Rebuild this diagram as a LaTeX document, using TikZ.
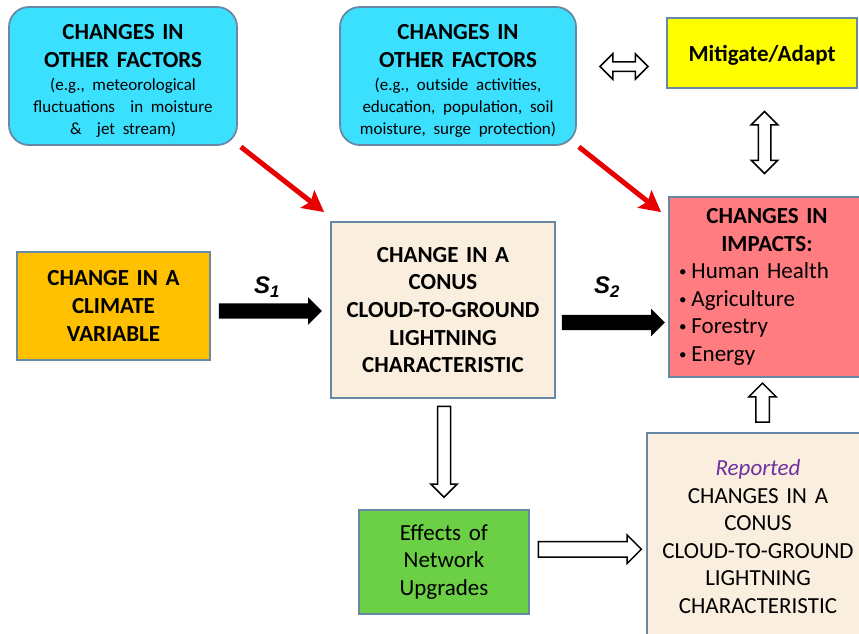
\documentclass[tikz,border=0pt]{standalone}
\usepackage{fontspec}
\setmainfont{Carlito}
\newfontfamily\arialfont{Liberation Sans}
\usetikzlibrary{shapes.arrows,arrows.meta,calc}
\definecolor{cyanfill}{RGB}{59,224,255}
\definecolor{edgecol}{RGB}{104,137,165}
\definecolor{orangefill}{RGB}{255,192,0}
\definecolor{yellowfill}{RGB}{255,255,0}
\definecolor{redfill}{RGB}{255,124,128}
\definecolor{creamfill}{RGB}{250,239,222}
\definecolor{greenfill}{RGB}{108,208,70}
\definecolor{purp}{RGB}{112,48,160}
\definecolor{arrowred}{RGB}{230,0,0}
\newcommand\myBig{\fontsize{23}{27.6}\selectfont}
\newcommand\mySmall{\fontsize{17}{21.8}\selectfont}
\newcommand\mybul{{\fontsize{15}{15}\selectfont\raisebox{2pt}{•}}\hspace{5pt}}
\begin{document}
\begin{tikzpicture}[x=1pt,y=-1pt,
  box/.style={draw=edgecol, line width=1.8pt, inner sep=0pt, align=center, font=\myBig},
  cyanbox/.style={box, fill=cyanfill, rounded corners=20pt},
  hollowarrow/.style={single arrow, draw=black, fill=white, line width=1.5pt, inner xsep=0pt, text height=0pt, text depth=0pt},
  hollowdouble/.style={double arrow, draw=black, fill=white, line width=1.5pt, inner xsep=0pt, text height=0pt, text depth=0pt},
  solidarrow/.style={single arrow, fill=black, draw=none, inner xsep=0pt, text height=0pt, text depth=0pt, inner ysep=7.5pt, single arrow head extend=6pt, minimum height=103pt},
  redarrow/.style={draw=arrowred, line width=5pt, -{Stealth[length=21pt,width=22pt,inset=4pt]}},
  slabel/.style={font=\arialfont\bfseries\itshape\fontsize{24}{26}\selectfont, inner sep=0pt}
]
\useasboundingbox (0,0) rectangle (859,633);

\node[cyanbox, minimum width=228pt, minimum height=138pt, text width=222pt] (A) at (123,76)
  {{\bfseries\rule{0pt}{25pt}CHANGES IN\\OTHER FACTORS\par}\vspace{2pt}{\mySmall (e.g., meteorological\\fluctuations~ in moisture\\\&~ jet stream)\par}};
\node[cyanbox, minimum width=236pt, minimum height=138pt, text width=230pt] (B) at (458,76)
  {{\bfseries\rule{0pt}{25pt}CHANGES IN\\OTHER FACTORS\par}\vspace{2pt}{\mySmall (e.g., outside activities,\\education, population, soil\\moisture, surge protection)\par}};
\node[box, fill=yellowfill, minimum width=190pt, minimum height=70pt, text width=184pt, text depth=0pt] (M) at (762,53)
  {\bfseries Mitigate/Adapt};
\node[box, fill=orangefill, minimum width=193pt, minimum height=108pt, text width=187pt] (V) at (113.5,306)
  {\bfseries CHANGE IN A\\CLIMATE\\VARIABLE};
\node[box, fill=creamfill, minimum width=224pt, minimum height=176pt, text width=218pt] (C) at (443,310)
  {\bfseries CHANGE IN A\\CONUS\\CLOUD-TO-GROUND\\LIGHTNING\\CHARACTERISTIC};
\node[box, fill=redfill, minimum width=196pt, minimum height=180pt, text width=176pt, align=left] (I) at (767,287)
  {{\centering\bfseries CHANGES IN\\IMPACTS:\par}\mybul Human Health\\\mybul Agriculture\\\mybul Forestry\\\mybul Energy};
\node[box, fill=greenfill, minimum width=170pt, minimum height=104pt, text width=164pt] (G) at (444,562)
  {Effects of\\Network\\Upgrades};
\node[box, fill=creamfill, minimum width=222pt, minimum height=207pt, text width=218pt] (R) at (758,536.5)
  {{\color{purp}\itshape Reported\par}CHANGES IN A\\CONUS\\CLOUD-TO-GROUND\\LIGHTNING\\CHARACTERISTIC};

% red arrows
\draw[redarrow] ([xshift=3pt,yshift=-1pt]A.south east) -- ([xshift=-6pt,yshift=9pt]C.north west);
\draw[redarrow] ([xshift=2pt,yshift=-1pt]B.south east) -- ([xshift=-7pt,yshift=-16pt]I.north west);

% solid S arrows
\coordinate (s1pos) at ($(V.east)!0.5!(C.west)+(-4,3)$);
\node[solidarrow] (s1arrow) at (s1pos) {};
\node[slabel] (s1) at (267,287) {S\textsubscript{1}};
\coordinate (s2pos) at ($(C.east)!0.5!(I.west)+(-2.5,24)$);
\node[solidarrow] (s2arrow) at (s2pos) {};
\node[slabel] (s2) at (607,287) {S\textsubscript{2}};

% hollow arrows
\coordinate (dnpos) at ($(C.south)!0.5!(G.north)+(0.5,-5.5)$);
\node[hollowarrow, rotate=-90, minimum height=91pt, inner ysep=5.75pt, single arrow head extend=6.75pt] (dn) at (dnpos) {};
\coordinate (rtpos) at ($(G.east)!0.5!(R.west)+(-2,0)$);
\node[hollowarrow, minimum height=103pt, inner ysep=7pt, single arrow head extend=6.5pt] (rt) at (rtpos) {};
\coordinate (uppos) at ($(R.north)!0.5!(I.south)+(0,1)$);
\node[hollowarrow, rotate=90, minimum height=39pt, inner ysep=6pt, single arrow head extend=7pt] (up) at (uppos) {};
\coordinate (vdpos) at ($(M.south)!0.5!(I.north)$);
\node[hollowdouble, rotate=90, minimum height=62pt, inner ysep=5.5pt, double arrow head extend=7pt] (vd) at (vdpos) {};
\coordinate (hdpos) at ($(B.east)!0.5!(M.west)+(2.5,2)$);
\node[hollowdouble, minimum height=48pt, inner ysep=4pt, double arrow head extend=8pt] (hd) at (hdpos) {};
\end{tikzpicture}
\end{document}
